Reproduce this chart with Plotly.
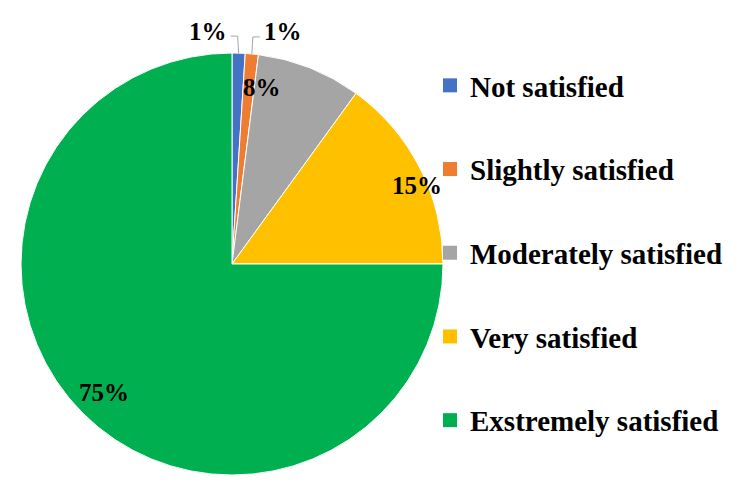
import math
import plotly.graph_objects as go

categories = ["Not satisfied", "Slightly satisfied", "Moderately satisfied", "Very satisfied", "Exstremely satisfied"]
values = [1, 1, 8, 15, 75]
colors = ["#4472C4", "#ED7D31", "#A5A5A5", "#FFC000", "#00B050"]

W, H = 746, 496
FONT = "'Liberation Serif', 'Times New Roman', Tinos, 'DejaVu Serif', serif"

# pie geometry (pixels)
CX, CY, R = 232, 264, 211

# label placement style per slice: (kind, radial fraction, angular shift deg)
LABEL_STYLE = [("left", 0, 0), ("right", 0, 0), ("in", 0.85, -12), ("in", 0.95, 4), ("in", 0.86, 0)]

fig = go.Figure()
fig.add_trace(go.Pie(
    labels=categories, values=values, sort=False, direction="clockwise", rotation=0,
    marker=dict(colors=colors, line=dict(color="white", width=1)),
    textinfo="none",
    showlegend=False,
    domain=dict(x=[(CX - R) / W, (CX + R) / W], y=[1 - (CY + R) / H, 1 - (CY - R) / H]),
    hoverinfo="label+percent",
))

def px(x):
    return x / W

def py(y):
    return 1 - y / H

total = sum(values)
cum = 0
for v, (kind, rf, shift) in zip(values, LABEL_STYLE):
    mid = (cum + v / 2) / total * 360
    cum += v
    txt = f"<b>{round(v / total * 100)}%</b>"
    if kind == "in":
        a = math.radians(mid + shift)
        x = CX + rf * R * math.sin(a)
        y = CY - rf * R * math.cos(a)
        fig.add_annotation(x=px(x), y=py(y), xref="paper", yref="paper", text=txt,
                           xanchor="center", yanchor="middle",
                           showarrow=False, font=dict(family=FONT, size=25, color="black"))
    else:
        a = math.radians(mid)
        ex = CX + R * math.sin(a)
        ey = CY - R * math.cos(a)
        sgn = -1 if kind == "left" else 1
        kx, ky = ex + sgn * 1, ey - 17
        hx = kx + sgn * 7
        fig.add_shape(type="path",
                      path=f"M {px(ex)} {py(ey)} L {px(kx)} {py(ky)} L {px(hx)} {py(ky)}",
                      xref="paper", yref="paper", line=dict(color="#A6A6A6", width=1))
        fig.add_annotation(x=px(hx + sgn * 2), y=py(ky - 5), xref="paper", yref="paper", text=txt,
                           showarrow=False, xanchor="right" if kind == "left" else "left",
                           yanchor="middle",
                           font=dict(family=FONT, size=25, color="black"))

for c, col in zip(categories, colors):
    fig.add_trace(go.Scatter(
        x=[None], y=[None], mode="markers", name=c, legendgroup=c,
        marker=dict(symbol="square", size=14, color=col),
        showlegend=True,
    ))

fig.update_layout(
    width=W, height=H,
    margin=dict(l=0, r=0, t=0, b=0),
    paper_bgcolor="white", plot_bgcolor="white",
    xaxis=dict(visible=False), yaxis=dict(visible=False),
    legend=dict(
        x=430 / W, y=0.5 - 5 / H, xanchor="left", yanchor="middle",
        bgcolor="rgba(0,0,0,0)",
        font=dict(family=FONT, size=29, color="black", weight="bold"),
        tracegroupgap=43, itemclick=False,
    ),
)

fig.write_html("out.html", config={"displayModeBar": False},
               post_script="document.body.style.margin='0';")
